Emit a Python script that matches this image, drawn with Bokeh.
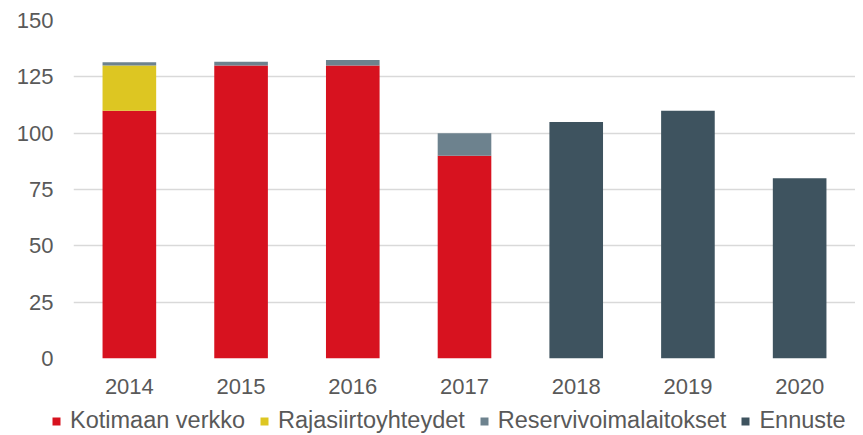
from bokeh.plotting import figure
from bokeh.layouts import column
from bokeh.models import FactorRange, Range1d, Legend, LegendItem, FixedTicker
from bokeh.embed import file_html
from bokeh.resources import INLINE

years = ["2014", "2015", "2016", "2017", "2018", "2019", "2020"]
series_names = ["Kotimaan verkko", "Rajasiirtoyhteydet", "Reservivoimalaitokset", "Ennuste"]
kotimaan = [110, 130, 130, 90, 0, 0, 0]
rajasiirto = [20, 0, 0, 0, 0, 0, 0]
reservi = [1.5, 1.7, 2.5, 10, 0, 0, 0]
ennuste = [0, 0, 0, 0, 105, 110, 80]
y_ticks = [0, 25, 50, 75, 100, 125, 150]

colors = ["#D7121F", "#DDC622", "#6D828E", "#3E535F"]
keys = ["k", "r", "s", "e"]

data = {"year": years, "k": kotimaan, "r": rajasiirto, "s": reservi, "e": ennuste}

p = figure(x_range=FactorRange(*years, range_padding=0), y_range=Range1d(0, 150),
           width=855, height=405, output_backend="svg", toolbar_location=None,
           min_border_left=73, min_border_right=0, min_border_top=20, min_border_bottom=47)
p.frame_align = False

renderers = p.vbar_stack(keys, x="year", width=0.48, source=data, color=colors, line_color=None)

font = "Liberation Sans"
txt = "#595959"

p.outline_line_color = None
p.xgrid.grid_line_color = None
p.ygrid.grid_line_color = "#D9D9D9"
p.ygrid.grid_line_width = 1.5
p.yaxis.ticker = FixedTicker(ticks=y_ticks)

for ax in (p.xaxis[0], p.yaxis[0]):
    ax.axis_line_color = None
    ax.major_tick_line_color = None
    ax.minor_tick_line_color = None
    ax.major_tick_out = 0
    ax.major_tick_in = 0
    ax.major_label_text_font = font
    ax.major_label_text_font_size = "22px"
    ax.major_label_text_color = txt
p.yaxis.major_label_standoff = 20
p.xaxis.major_label_standoff = 20

# legend strip below the chart (swatches from zero-height stand-in bars)
lg = figure(width=855, height=30, output_backend="svg", toolbar_location=None,
            x_range=Range1d(0, 1), y_range=Range1d(0, 1), min_border=0,
            x_axis_location=None, y_axis_location=None)
lg.frame_align = False
lg.grid.visible = False
lg.outline_line_color = None
swatches = [lg.vbar(x=[0.5], top=[0], bottom=[0], width=0, color=c, line_color=None) for c in colors]

legend = Legend(items=[LegendItem(label=n, renderers=[r]) for n, r in zip(series_names, swatches)],
                orientation="horizontal", location=(51, 1),
                glyph_width=10, glyph_height=10, label_standoff=9, spacing=14,
                padding=0, margin=0, border_line_color=None, background_fill_alpha=0,
                label_text_font=font, label_text_font_size="23.5px", label_text_color=txt)
lg.add_layout(legend, "center")

open("out.html", "w").write(file_html(column(p, lg, spacing=0), INLINE))
